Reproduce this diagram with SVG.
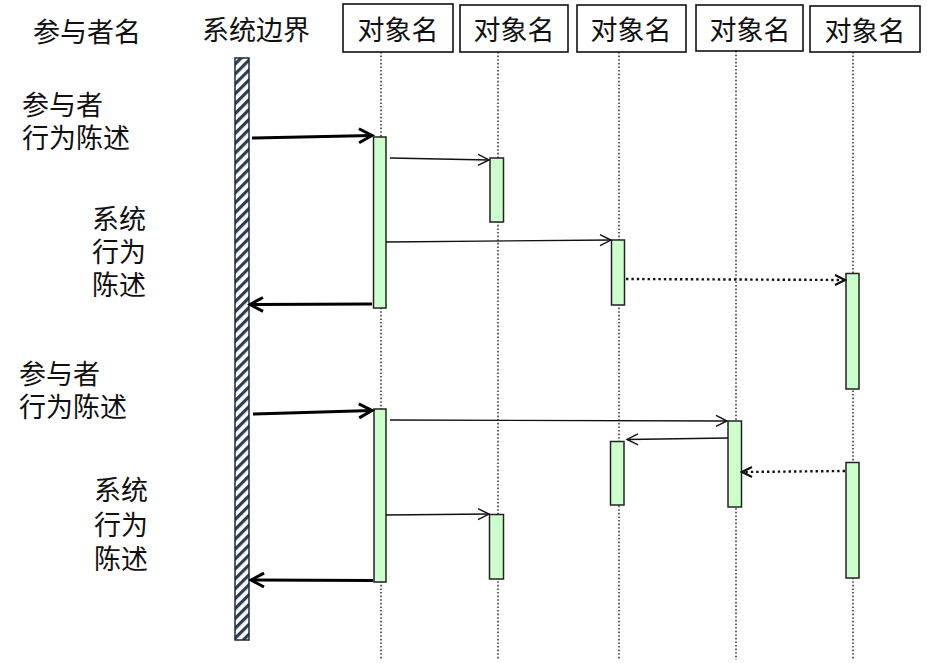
<svg xmlns="http://www.w3.org/2000/svg" width="927" height="663" viewBox="0 0 927 663">
<style>
text{font-family:"Liberation Sans","Noto Sans CJK SC",sans-serif;font-size:27px;fill:#111}
.box{fill:#fff;stroke:#111;stroke-width:1.6}
.life{stroke:#222;stroke-width:1.4;stroke-dasharray:1.6,2}
.act{fill:#ccffcc;stroke:#222;stroke-width:1.5}
.thin{stroke:#111;stroke-width:1.3;fill:none;marker-end:url(#ah)}
.bold{stroke:#000;stroke-width:3;fill:none;marker-end:url(#ahb)}
.dot{stroke:#111;stroke-width:2.4;stroke-dasharray:2.4,3;fill:none;marker-end:url(#ahd)}
</style>
<defs>
<pattern id="hatch" patternUnits="userSpaceOnUse" width="7" height="7" patternTransform="rotate(45)">
<rect width="7" height="7" fill="#fff"/>
<rect x="0" y="0" width="3.2" height="7" fill="#2e3d52"/>
</pattern>
<marker id="ah" markerUnits="userSpaceOnUse" markerWidth="14" markerHeight="14" viewBox="0 0 14 14" refX="12" refY="7" orient="auto">
<path d="M1,1.5 L12,7 L1,12.5" fill="none" stroke="#111" stroke-width="1.4"/>
</marker>
<marker id="ahb" markerUnits="userSpaceOnUse" markerWidth="18" markerHeight="18" viewBox="0 0 18 18" refX="15" refY="9" orient="auto">
<path d="M2,2 L15,9 L2,16" fill="none" stroke="#000" stroke-width="3"/>
</marker>
<marker id="ahd" markerUnits="userSpaceOnUse" markerWidth="14" markerHeight="14" viewBox="0 0 14 14" refX="12" refY="7" orient="auto">
<path d="M2,2 L12,7 L2,12" fill="none" stroke="#111" stroke-width="2.2"/>
</marker>
</defs>
<rect width="927" height="663" fill="#fff"/>

<g id="labels">
<text x="33" y="42">参与者名</text>
<text x="202" y="40">系统边界</text>
<text x="22" y="115">参与者</text>
<text x="22" y="148">行为陈述</text>
<text x="92" y="229">系统</text>
<text x="92" y="262">行为</text>
<text x="92" y="295">陈述</text>
<text x="19" y="384">参与者</text>
<text x="19" y="417">行为陈述</text>
<text x="94" y="500">系统</text>
<text x="94" y="534.5">行为</text>
<text x="94" y="568.5">陈述</text>
</g>

<g id="boundary">
<rect x="235" y="58" width="14" height="582" fill="url(#hatch)" stroke="#1e2a3a" stroke-width="1.5"/>
</g>

<g id="lifelines">
<line class="life" x1="381" y1="52" x2="381" y2="660"/>
<line class="life" x1="498" y1="52" x2="498" y2="660"/>
<line class="life" x1="619" y1="52" x2="619" y2="660"/>
<line class="life" x1="736" y1="51" x2="736" y2="660"/>
<line class="life" x1="853" y1="52" x2="853" y2="660"/>
</g>

<g id="obj1"><rect class="box" x="343" y="4" width="110" height="48"/><text x="398" y="40" text-anchor="middle">对象名</text></g>
<g id="obj2"><rect class="box" x="460" y="5" width="108" height="47"/><text x="514" y="40" text-anchor="middle">对象名</text></g>
<g id="obj3"><rect class="box" x="577" y="5" width="109" height="47"/><text x="631" y="40" text-anchor="middle">对象名</text></g>
<g id="obj4"><rect class="box" x="696" y="5" width="107" height="46"/><text x="750" y="40" text-anchor="middle">对象名</text></g>
<g id="obj5"><rect class="box" x="810" y="6" width="110" height="46"/><text x="865" y="41" text-anchor="middle">对象名</text></g>

<g id="activations">
<rect class="act" x="373.5" y="137" width="12.5" height="171"/>
<rect class="act" x="490" y="158" width="13.5" height="64"/>
<rect class="act" x="611.5" y="240" width="13" height="65"/>
<rect class="act" x="846" y="273.5" width="13" height="115.5"/>
<rect class="act" x="374" y="409" width="12" height="173"/>
<rect class="act" x="489.5" y="514.5" width="14" height="64.5"/>
<rect class="act" x="610.5" y="441.5" width="13.5" height="63.5"/>
<rect class="act" x="728" y="421" width="13.5" height="86"/>
<rect class="act" x="846" y="462.5" width="13" height="115.5"/>
</g>

<g id="connectors">
<path class="bold" d="M252,138 L372,135.5"/>
<path class="thin" d="M390,158 L489,160"/>
<path class="thin" d="M386,242 L611,240"/>
<path class="dot" d="M626,279 L845,280"/>
<path class="bold" d="M372,304 L250,304.5"/>
<path class="bold" d="M253,414 L372,410.5"/>
<path class="thin" d="M390,420 L727,421"/>
<path class="thin" d="M728,438 L627,439.5"/>
<path class="dot" d="M845,471 L742,472"/>
<path class="thin" d="M386,515 L489,514"/>
<path class="bold" d="M373,580.5 L251,580"/>
</g>
</svg>
